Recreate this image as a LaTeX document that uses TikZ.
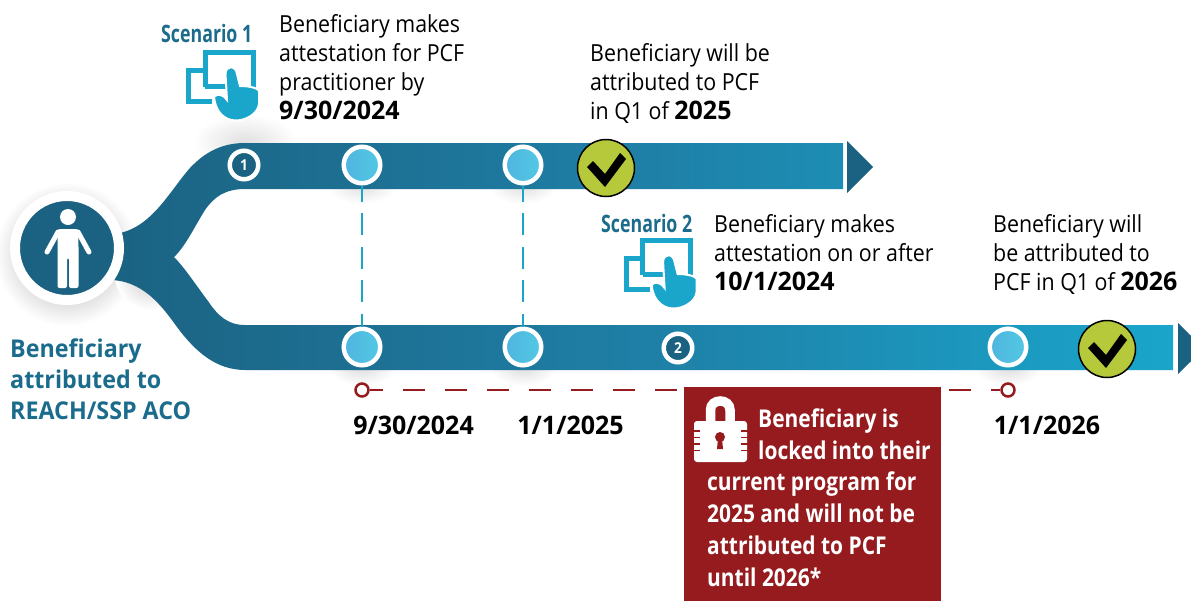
\documentclass[tikz,border=0pt]{standalone}
\usepackage{fontspec}
\setmainfont[FakeStretch=0.91]{Open Sans}
\newfontfamily\cond[FakeStretch=0.74]{Open Sans}
\newfontfamily\dat[FakeStretch=0.98]{Open Sans}
\newfontfamily\boxf[FakeStretch=0.855]{Open Sans}
\newfontfamily\tealf[FakeStretch=0.95]{Open Sans}
\newcommand\dt[1]{{\fontsize{25.5}{29}\selectfont\dat\bfseries #1}}
\definecolor{deep}{HTML}{1B6282}
\definecolor{midb}{HTML}{1F7FA6}
\definecolor{sky}{HTML}{1AA5CB}
\definecolor{wine}{HTML}{951B1E}
\definecolor{lime}{HTML}{B5C93A}
\definecolor{teal}{HTML}{1B6C8C}
\definecolor{dotl}{HTML}{4FB5DF}
\definecolor{dotr}{HTML}{52C8E4}
\tikzset{
  x=1pt,y=-1pt,
  dot/.style={circle,draw=white,line width=4.5pt,minimum size=36.5pt,inner sep=0pt,left color=dotl,right color=dotr},
  num/.style={circle,draw=white,line width=4.5pt,fill=deep,text=white,minimum size=28.5pt,inner sep=0pt,font=\fontsize{15}{15}\selectfont\bfseries},
  ok/.style={circle,draw=black,line width=1.5pt,fill=lime,minimum size=57pt,inner sep=0pt},
  ring/.style={circle,draw=wine,line width=2.5pt,fill=white,minimum size=13pt,inner sep=0pt},
  txt/.style={anchor=base west,align=left,inner sep=0pt,font=\fontsize{23.5}{29}\selectfont},
  tealtxt/.style={anchor=base west,align=left,inner sep=0pt,text=teal,font=\fontsize{24.5}{31}\selectfont\tealf\bfseries},
  datetxt/.style={anchor=base,inner sep=0pt,font=\fontsize{25.5}{29}\selectfont\dat\bfseries},
  scen/.style={anchor=base west,inner sep=0pt,text=teal,font=\fontsize{24}{29}\selectfont\cond\bfseries},
  boxtxt/.style={anchor=base west,align=left,inner sep=0pt,text=white,font=\fontsize{24.5}{31.7}\selectfont\boxf\bfseries},
  bluedash/.style={draw=sky,line width=2.5pt,dash pattern=on 22pt off 11.5pt,dash phase=6pt},
  reddash/.style={draw=wine,line width=2.5pt,dash pattern=on 22pt off 20pt,dash phase=9pt},
  tick/.pic={\fill[black] (-19,-1)--(-13,-7)--(-1,6)--(14,-15)--(20,-9)--(-1,19)--cycle;},
  touch/.pic={
    \draw[sky,line width=5pt] (205,87)--(205,52.5)--(253,52.5)--(253,88);
    \draw[sky,line width=5pt] (205,86)--(228,86);
    \draw[sky,line width=5pt] (205,70.5)--(188.5,70.5)--(188.5,101.5)--(212,101.5);
    \fill[sky,draw=white,line width=2pt] (225.5,74)
      .. controls (225.5,65) and (236,65) .. (237,74)
      -- (240,86) .. controls (246,86) and (257,87) .. (259,91)
      -- (259,104) .. controls (258,114) and (245,121) .. (235,120.5)
      .. controls (223,120) and (215,110) .. (214,96.5)
      .. controls (218,93) and (224,95) .. (227,100) -- cycle;
  },
}
\begin{document}
\begin{tikzpicture}
\useasboundingbox (0,0) rectangle (1191,600);
\clip (0,0) rectangle (1191,600);
% soft shadows
\shade[inner color=black!38,outer color=white] (67,254) circle (72pt);
\shade[inner color=black!22,outer color=white] (150,275) circle (35pt);
\shade[inner color=black!12,outer color=white] (245,142) ellipse (52pt and 28pt);
\foreach \sx in {362,523,1008}{
  \shade[inner color=black!14,outer color=white] (\sx,366) ellipse (34pt and 20pt);
  }
\shade[inner color=black!12,outer color=white] (362,186) ellipse (34pt and 18pt);
\shade[inner color=black!12,outer color=white] (523,186) ellipse (34pt and 18pt);
% ribbon
\shade[left color=deep,right color=sky,middle color=midb,shading angle=90] (112,234)
  .. controls (150,232) and (170,190) .. (190,168)
  .. controls (205,152) and (222,143) .. (245,143)
  -- (843,143) -- (843,189) -- (245,189)
  .. controls (225,189) and (214,197) .. (205,210)
  .. controls (195,226) and (185,247) .. (174,257)
  .. controls (185,268) and (198,288) .. (208,301)
  .. controls (218,316) and (228,325) .. (245,325)
  -- (1173,325) -- (1173,370) -- (245,370)
  .. controls (215,370) and (195,350) .. (180,331)
  .. controls (165,311) and (145,278) .. (105,280) -- cycle;
\fill[deep] (847,141) -- (873,167) -- (847,193) -- cycle;
\fill[deep] (1178,323) -- (1204,348.5) -- (1178,374) -- cycle;
% person
\node[circle,draw=white,line width=10pt,fill=deep,minimum size=104pt,inner sep=0pt] (person) at (67,248) {};
\fill[white] (68,217) circle (8pt);
\draw[white,line width=5pt,line cap=round] (47,252) -- (58,232);
\draw[white,line width=5pt,line cap=round] (89,252) -- (78,232);
\fill[white,rounded corners=2pt] (58,229) -- (78,229) -- (78.5,245) -- (78.5,288) -- (69,288) -- (69,258) -- (67,258) -- (67,288) -- (57.5,288) -- (57.5,245) -- cycle;
% coordinates
\node[dot] (a1) at (362,165) {};
\node[dot] (a2) at (523,165) {};
\node[dot] (b1) at (362,347) {};
\node[dot] (b2) at (523,347) {};
\node[dot] (b3) at (1008,347) {};
\draw[bluedash] (a1.south) -- (b1.north);
\draw[bluedash] (a2.south) -- (b2.north);
\node[num] (n1) at (244,165) {1};
\node[num] (n2) at (678,348) {2};
\node[ok] (c1) at (606,168) {};
\node[ok] (c2) at (1107,349) {};
\pic at (c1.center) {tick};
\pic at (c2.center) {tick};
% red line
\node[ring] (r1) at (362,390) {};
\node[ring] (r2) at (1008,390) {};
\draw[reddash] (r1.east) -- (r2.west);
% icons
\pic at (0,0) {touch};
\pic at (437.6,188) {touch};
\node[scen] (s1) at (161,42) {Scenario 1};
\node[scen] (s2) at (601,232) {Scenario 2};
% texts
\node[txt] (t1) at (279,119) {Beneficiary makes\\attestation for PCF\\practitioner by\\\dt{9/30/2024}};
\node[txt] (t2) at (590,119) {Beneficiary will be\\attributed to PCF\\in Q1 of \dt{2025}};
\node[txt] (t3) at (714,290) {Beneficiary makes\\attestation on or after\\\dt{10/1/2024}};
\node[txt] (t4) at (993,290) {Beneficiary will\\be attributed to\\PCF in Q1 of \dt{2026}};
\node[tealtxt] (t5) at (10,419) {Beneficiary\\attributed to\\REACH/SSP ACO};
\node[datetxt] (d1) at (413.5,434) {9/30/2024};
\node[datetxt] (d2) at (570.5,434) {1/1/2025};
\node[datetxt] (d3) at (1047,434) {1/1/2026};
% red box
\node[fill=wine,draw=none,minimum width=257pt,minimum height=215pt,anchor=north west,inner sep=0pt] (box) at (684,387) {};
\node[boxtxt] (b5) at (758,459) {Beneficiary is\\locked into their};
\node[boxtxt] (b6) at (707,586) {current program for\\2025 and will not be\\attributed to PCF\\until 2026*};
% lock
\draw[white,line width=9.5pt] (710.5,424) -- (710.5,410) .. controls (710.5,398) and (730,398) .. (730,410) -- (730,424);
\fill[white,rounded corners=3pt] (694,421) rectangle (747,462);
\foreach \ly in {431,437.5,444,450.5}{
  \draw[wine,line width=1.8pt] (693,\ly) -- (700,\ly);
  \draw[wine,line width=1.8pt] (741,\ly) -- (748,\ly);
}
\fill[wine] (720,437) circle (5pt);
\fill[wine] (718,438) -- (722,438) -- (723,449) -- (717,449) -- cycle;
\end{tikzpicture}
\end{document}
